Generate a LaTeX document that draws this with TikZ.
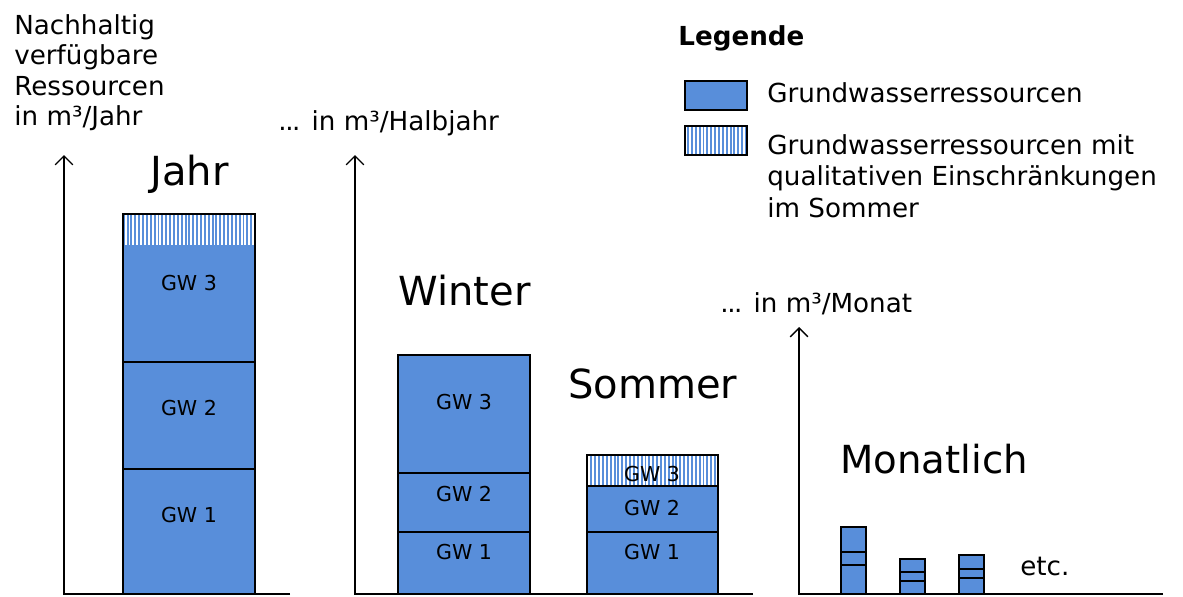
\documentclass[tikz,border=0pt]{standalone}
\usepackage{fontspec}
\setmainfont{DejaVu Sans}
\usetikzlibrary{arrows.meta,patterns.meta}
\definecolor{gwblue}{RGB}{88,142,218}
\newcommand{\pkte}{.\kern-0.8pt.\kern-0.8pt.}

\begin{document}
\begin{tikzpicture}[x=0.02cm,y=-0.02cm,
	gw/.style={fill=gwblue},
	gwhatch/.style={pattern={Lines[angle=90,distance=2.2pt,line width=1.1pt]},pattern color=gwblue},
	gwline/.style={draw=black,line width=1pt},
	axis/.style={line width=0.8pt,-{Straight Barb[length=5pt,width=10pt]}},
	lbl/.style={font=\fontsize{14.9}{16.5}\selectfont,anchor=base west,inner sep=0pt},
	big/.style={font=\fontsize{22.8}{26}\selectfont,anchor=base west,inner sep=0pt},
	gwlbl/.style={font=\fontsize{11.7}{13}\selectfont,inner sep=0pt}]
	\path[fill=white,use as bounding box] (0,0) rectangle (1183,596);

	% axes
	\coordinate (JahrO) at (64,594);
	\coordinate (JahrTip) at (64,155);
	\coordinate (JahrEnd) at (290,594);
	\coordinate (HalbO) at (355,594);
	\coordinate (HalbTip) at (355,155);
	\coordinate (HalbEnd) at (753,594);
	\coordinate (MonatO) at (799,594);
	\coordinate (MonatTip) at (799,327);
	\coordinate (MonatEnd) at (1163,594);
	\draw[axis] (JahrEnd) -- (JahrO) -- (JahrTip);
	\draw[axis] (HalbEnd) -- (HalbO) -- (HalbTip);
	\draw[axis] (MonatEnd) -- (MonatO) -- (MonatTip);

	\node[lbl,anchor=north west,align=left] (Achse) at (14,14) {Nachhaltig\\[0.8pt]verfügbare\\[0.8pt]Ressourcen\\[0.8pt]in m³/Jahr};
	\node[lbl] (AchseHalb) at (278,130) {\pkte{} in m³/Halbjahr};
	\node[lbl] (AchseMonat) at (720,312) {\pkte{} in m³/Monat};

	% Jahr
	\fill[gwhatch] (123,214) rectangle (255,245);
	\fill[gw] (123,245) rectangle (255,594);
	\draw[gwline] (123,214) rectangle (255,594) (123,362) -- (255,362) (123,469) -- (255,469);
	\node[big] (Jahr) at (150,185) {Jahr};
	\node[gwlbl] (JahrGW3) at (189,283) {GW 3};
	\node[gwlbl] (JahrGW2) at (189,408) {GW 2};
	\node[gwlbl] (JahrGW1) at (189,515) {GW 1};

	% Winter
	\fill[gw] (398,355) rectangle (530,594);
	\draw[gwline] (398,355) rectangle (530,594) (398,473) -- (530,473) (398,532) -- (530,532);
	\node[big] (Winter) at (398,305) {Winter};
	\node[gwlbl] (WinterGW3) at (464,402) {GW 3};
	\node[gwlbl] (WinterGW2) at (464,494) {GW 2};
	\node[gwlbl] (WinterGW1) at (464,552) {GW 1};

	% Sommer
	\fill[gwhatch] (587,455) rectangle (718,486);
	\fill[gw] (587,486) rectangle (718,594);
	\draw[gwline] (587,455) rectangle (718,594) (587,486) -- (718,486) (587,532) -- (718,532);
	\node[big] (Sommer) at (568,398) {Sommer};
	\node[gwlbl] (SommerGW3) at (652,474) {GW 3};
	\node[gwlbl] (SommerGW2) at (652,508) {GW 2};
	\node[gwlbl] (SommerGW1) at (652,552) {GW 1};

	% Monatlich
	\node[big,font=\fontsize{22}{26}\selectfont] (Monatlich) at (840,473) {Monatlich};
	\foreach \x/\t/\a/\b in {841/527/552/565, 900/559/572/581, 959/555/569/578} {
		\fill[gw] (\x,\t) rectangle (\x+25,594);
		\draw[gwline] (\x,\t) rectangle (\x+25,594) (\x,\a) -- (\x+25,\a) (\x,\b) -- (\x+25,\b);
	}
	\node[lbl] (etc) at (1020,575) {etc.};

	% Legende
	\node[lbl,font=\fontsize{14.9}{16.5}\selectfont\bfseries] (Legende) at (678,45) {Legende};
	\fill[gw] (685,81) rectangle (747,110);
	\draw[gwline] (685,81) rectangle (747,110);
	\fill[gwhatch] (685,126) rectangle (747,155);
	\draw[gwline] (685,126) rectangle (747,155);
	\node[lbl] (LegGW) at (767,102) {Grundwasserressourcen};
	\node[lbl,anchor=north west,align=left] (LegQual) at (767,134) {Grundwasserressourcen mit\\[1.5pt]qualitativen Einschränkungen\\[1.5pt]im Sommer};
\end{tikzpicture}
\end{document}
